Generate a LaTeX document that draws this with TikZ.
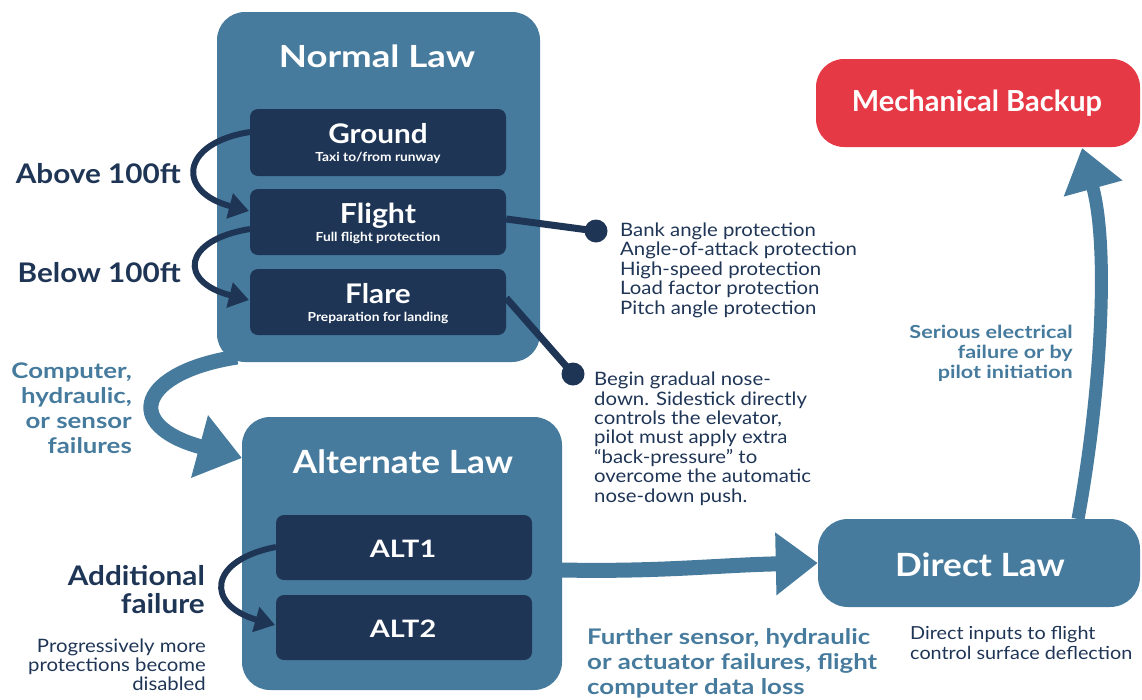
\documentclass[tikz,border=0pt]{standalone}
\usepackage{fontspec}
\setmainfont{Lato}
\newfontfamily\latoA{Lato}[FakeStretch=1.2]
\newfontfamily\latoB{Lato}[FakeStretch=1.1]
\usetikzlibrary{arrows.meta}
\definecolor{steel}{HTML}{467B9D}
\definecolor{navy}{HTML}{1F3556}
\definecolor{alarm}{HTML}{E63946}

\begin{document}
\begin{tikzpicture}[x=1pt,y=-1pt,
  lawbox/.style={fill=steel, rounded corners=28pt, inner sep=0pt},
  modebox/.style={fill=navy, rounded corners=8pt, inner sep=0pt, minimum width=256pt},
  plain/.style={inner sep=0pt, text=navy},
  lawtitle/.style={plain, text=white, anchor=base},
  modetitle/.style={plain, text=white, font=\latoB\fontsize{27}{27}\selectfont\bfseries, anchor=base},
  modesub/.style={plain, text=white, font=\latoB\fontsize{12.5}{13}\selectfont\bfseries, anchor=base},
  sidelabel/.style={plain, font=\latoB\fontsize{27}{28}\selectfont\bfseries, align=right, anchor=base east},
  steellabel/.style={plain, text=steel, font=\latoA\fontsize{21.5}{25}\selectfont\bfseries},
  note/.style={plain, font=\latoB\fontsize{18.5}{19.4}\selectfont},
  stepflow/.style={draw=navy, line width=6pt, -{Triangle[length=20pt,width=25pt]}},
  lawflow/.style={draw=steel, line width=15pt, -{Triangle[length=44pt,width=62pt]}},
  lead/.style={draw=navy, line width=7pt},
  dot/.style={circle, fill=navy, minimum size=23pt, inner sep=0pt}
]
\useasboundingbox (0,0) rectangle (1142,699);

% Law boxes
\node[lawbox, minimum width=323pt, minimum height=350pt] (normal) at (378.5,187) {};
\node[lawbox, minimum width=320pt, minimum height=273pt] (alternate) at (402,553.5) {};
\node[lawbox, minimum width=322pt, minimum height=88pt, rounded corners=30pt] (direct) at (979,563) {};
\node[lawbox, fill=alarm, minimum width=324pt, minimum height=88pt] (mech) at (978,103) {};

\node[lawtitle, font=\latoA\fontsize{30.5}{30}\selectfont\bfseries] (normaltitle) at (377,67) {Normal Law};
\node[lawtitle, font=\latoB\fontsize{32}{32}\selectfont\bfseries] (alttitle) at (403,473) {Alternate Law};
\node[lawtitle, font=\latoB\fontsize{32}{32}\selectfont\bfseries] (directtitle) at (980,576) {Direct Law};
\node[lawtitle, font=\fontsize{29}{29}\selectfont\bfseries] (mechtitle) at (977,111) {Mechanical Backup};

% Normal law modes
\node[modebox, minimum height=67pt] (ground) at (378,142.5) {};
\node[modebox, minimum height=66pt] (flight) at (378,222) {};
\node[modebox, minimum height=66pt] (flare) at (378,302) {};
\node[modetitle] (groundtitle) at (378,143) {Ground};
\node[modesub] (groundsub) at (378,161) {Taxi to/from runway};
\node[modetitle, font=\latoB\fontsize{27.5}{27}\selectfont\bfseries] (flighttitle) at (378,223) {Flight};
\node[modesub] (flightsub) at (378,241) {Full flight protection};
\node[modetitle] (flaretitle) at (378,303) {Flare};
\node[modesub] (flaresub) at (378,321) {Preparation for landing};

% Alternate law modes
\node[modebox, minimum height=65pt] (alt1) at (404,547.5) {};
\node[modebox, minimum height=65pt] (alt2) at (404,627.5) {};
\node[modetitle, font=\latoA\fontsize{24}{24}\selectfont\bfseries] (alt1title) at (403,557) {ALT1};
\node[modetitle, font=\latoA\fontsize{24}{24}\selectfont\bfseries] (alt2title) at (403,637) {ALT2};

% Mode transitions
\coordinate (g0) at (250,132);
\coordinate (f1) at (249,211);
\coordinate (f0) at (250,229);
\coordinate (r1) at (249,300);
\draw[stepflow] (g0) .. controls (180,143) and (176,192) .. (f1);
\draw[stepflow] (f0) .. controls (182,240) and (178,282) .. (r1);
\coordinate (a0) at (276,547);
\coordinate (a1) at (275,625);
\draw[stepflow] (a0) .. controls (208,560) and (205,605) .. (a1);

\node[sidelabel] (above) at (181,183) {Above 100ft};
\node[sidelabel] (below) at (181,282) {Below 100ft};
\node[sidelabel] (additional) at (205,613) {Additional\\failure};
\node[plain, font=\latoB\fontsize{18.5}{19}\selectfont, align=right, anchor=base east] (progress) at (206,690) {Progressively more\\protections become\\disabled};

% Law transitions
\coordinate (n0) at (237,357);
\draw[lawflow] (n0) .. controls (140,372) and (120,425) .. (242,458);
\node[steellabel, align=right, anchor=base east] (failures) at (132,453) {Computer,\\hydraulic,\\or sensor\\failures};

\coordinate (d0) at (562,570);
\draw[lawflow, -{Triangle[length=42pt,width=60pt]}] (d0) .. controls (660,572) and (720,565) .. (direct.west);
\node[steellabel, align=left, anchor=base west] (further) at (587,694) {Further sensor, hydraulic\\or actuator failures, flight\\computer data loss};
\node[note, font=\latoB\fontsize{18}{19.4}\selectfont, align=left, anchor=base west] (directnote) at (910,659) {Direct inputs to flight\\control surface deflection};

\coordinate (m0) at (1078,519);
\draw[lawflow, line width=13pt, -{Triangle[length=42pt,width=58pt]}] (m0) .. controls (1100,400) and (1110,250) .. (1082,148);
\node[steellabel, font=\latoA\fontsize{18}{20}\selectfont\bfseries, align=right, anchor=base east] (serious) at (1073,378) {Serious electrical\\failure or by\\pilot initiation};

% Protection callouts
\node[dot] (dotflight) at (596,231) {};
\node[dot] (dotflare) at (573,374) {};
\draw[lead] ([yshift=3pt]flight.east) -- (dotflight.center);
\draw[lead] ([yshift=4pt]flare.east) -- (dotflare.center);
\node[note, align=left, anchor=base west] (protlist) at (620,314) {Bank angle protection\\Angle-of-attack protection\\High-speed protection\\Load factor protection\\Pitch angle protection};
\node[note, align=left, anchor=base west] (flarenote) at (594,502) {Begin gradual nose-\\down. Sidestick directly\\controls the elevator,\\pilot must apply extra\\\char"201C back-pressure\char"201D{} to\\overcome the automatic\\nose-down push.};
\end{tikzpicture}
\end{document}
